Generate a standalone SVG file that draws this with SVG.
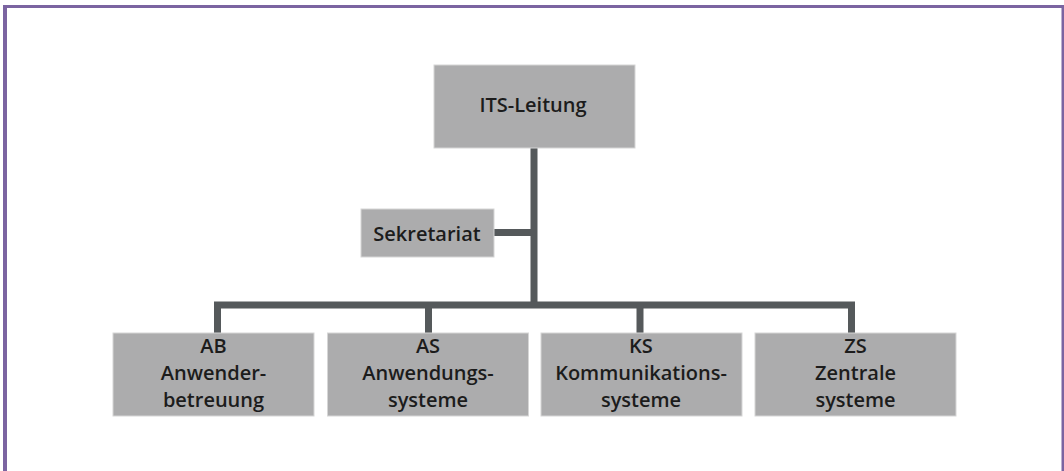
<svg xmlns="http://www.w3.org/2000/svg" width="1064" height="471" viewBox="0 0 1064 471">
  <style>
    .box { fill: #acacad; stroke: #d6d6d6; stroke-width: 1; }
    .conn { fill: none; stroke: #55595b; stroke-width: 7; stroke-linejoin: miter; }
    .lbl { font-family: "Open Sans", "Liberation Sans", sans-serif; font-weight: 600; font-size: 20px; fill: #1c1c1c; text-anchor: middle; }
    .frame { stroke: #7b64a1; fill: none; }
  </style>
  <rect width="1064" height="471" fill="#ffffff"/>
  <g id="frame">
    <line class="frame" x1="3" y1="6.5" x2="1064" y2="6.5" stroke-width="3"/>
    <line class="frame" x1="5" y1="5" x2="5" y2="471" stroke-width="4"/>
    <line class="frame" x1="1063" y1="5" x2="1063" y2="471" stroke-width="3"/>
  </g>
  <g id="connectors">
    <path class="conn" d="M534,148 V305"/>
    <path class="conn" d="M494,232.5 H534"/>
    <path class="conn" d="M217.5,333 V305 H851.5 V333"/>
    <path class="conn" d="M428.5,305 V333"/>
    <path class="conn" d="M640,305 V333"/>
  </g>
  <g id="its-leitung">
    <rect class="box" x="434" y="65" width="201" height="83"/>
    <text class="lbl" x="533" y="112">ITS-Leitung</text>
  </g>
  <g id="sekretariat">
    <rect class="box" x="361" y="209" width="133" height="48"/>
    <text class="lbl" x="427" y="241">Sekretariat</text>
  </g>
  <g id="ab">
    <rect class="box" x="113" y="333" width="201" height="83"/>
    <text class="lbl" x="213.5" y="353">AB<tspan x="213.5" y="380">Anwender-</tspan><tspan x="213.5" y="406.5">betreuung</tspan></text>
  </g>
  <g id="as">
    <rect class="box" x="327.5" y="333" width="201" height="83"/>
    <text class="lbl" x="428" y="353">AS<tspan x="428" y="380">Anwendungs-</tspan><tspan x="428" y="406.5">systeme</tspan></text>
  </g>
  <g id="ks">
    <rect class="box" x="541" y="333" width="201" height="83"/>
    <text class="lbl" x="641" y="353">KS<tspan x="641" y="380">Kommunikations-</tspan><tspan x="641" y="406.5">systeme</tspan></text>
  </g>
  <g id="zs">
    <rect class="box" x="755" y="333" width="201" height="83"/>
    <text class="lbl" x="855.5" y="353">ZS<tspan x="855.5" y="380">Zentrale</tspan><tspan x="855.5" y="406.5">systeme</tspan></text>
  </g>
</svg>
